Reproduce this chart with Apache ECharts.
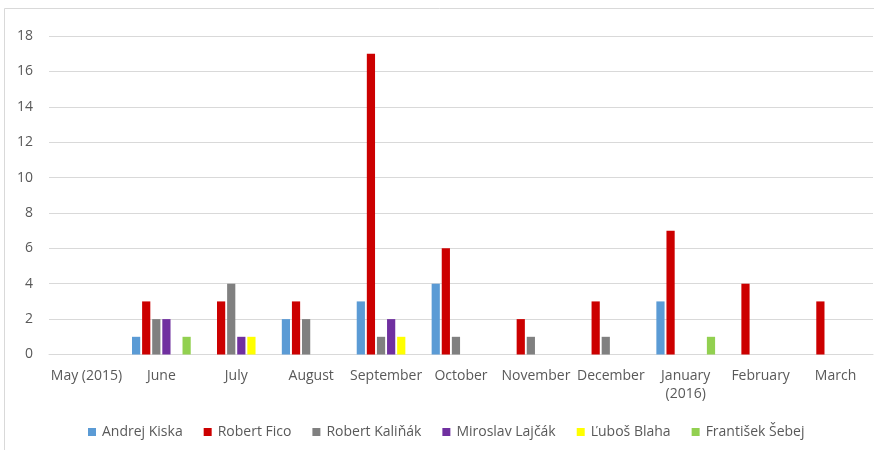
<!DOCTYPE html>
<html>
<head>
<meta charset="utf-8">
<script src="https://cdn.jsdelivr.net/npm/echarts@6/dist/echarts.min.js"></script>
<style>html,body{margin:0;padding:0;background:#fff;}#c{width:874px;height:450px;}</style>
</head>
<body>
<div id="c"></div>
<script>
const categories = ['May (2015)','June','July','August','September','October','November','December','January\n(2016)','February','March'];
const seriesNames = ['Andrej Kiska','Robert Fico','Robert Kaliňák','Miroslav Lajčák','Ľuboš Blaha','František Šebej'];
const kiska    = [0,1,0,2,3,4,0,0,3,0,0];
const fico     = [0,3,3,3,17,6,2,3,7,4,3];
const kalinak  = [0,2,4,2,1,1,1,1,0,0,0];
const lajcak   = [0,2,1,0,2,0,0,0,0,0,0];
const blaha    = [0,0,1,0,1,0,0,0,0,0,0];
const sebej    = [0,1,0,0,0,0,0,0,1,0,0];
const colors = ['#5B9BD5','#CC0000','#808080','#7030A0','#FFFF00','#92D050'];
const values = [kiska,fico,kalinak,lajcak,blaha,sebej];

const font = '"Open Sans", "Noto Sans", sans-serif';
const chart = echarts.init(document.getElementById('c'), null, {renderer:'canvas'});
chart.setOption({
  animation:false,
  color: colors,
  graphic:[{type:'rect',shape:{x:4.5,y:8.5,width:900,height:500},style:{fill:'none',stroke:'#D9D9D9',lineWidth:1},z:-1}],
  grid:{left:49,right:1,top:36,bottom:95.5,containLabel:false},
  legend:{
    bottom:6, left:83, itemWidth:8, itemHeight:8, itemGap:21,
    icon:'rect',
    textStyle:{color:'#595959',fontSize:14,fontFamily:font,padding:[0,0,0,1]},
    data: seriesNames
  },
  xAxis:{
    type:'category', data:categories,
    axisLine:{lineStyle:{color:'#D9D9D9'}},
    axisTick:{show:false},
    axisLabel:{color:'#595959',fontSize:14,fontFamily:font,margin:13,lineHeight:18,interval:0}
  },
  yAxis:{
    type:'value', min:0, max:18, interval:2,
    axisLine:{show:false}, axisTick:{show:false},
    splitLine:{lineStyle:{color:'#D9D9D9'}},
    axisLabel:{color:'#595959',fontSize:14,fontFamily:font,margin:16}
  },
  series: seriesNames.map((n,i)=>({
    name:n, type:'bar', data:values[i],
    barGap:'23%', barCategoryGap:'21.6%'
  }))
});
</script>
</body>
</html>
